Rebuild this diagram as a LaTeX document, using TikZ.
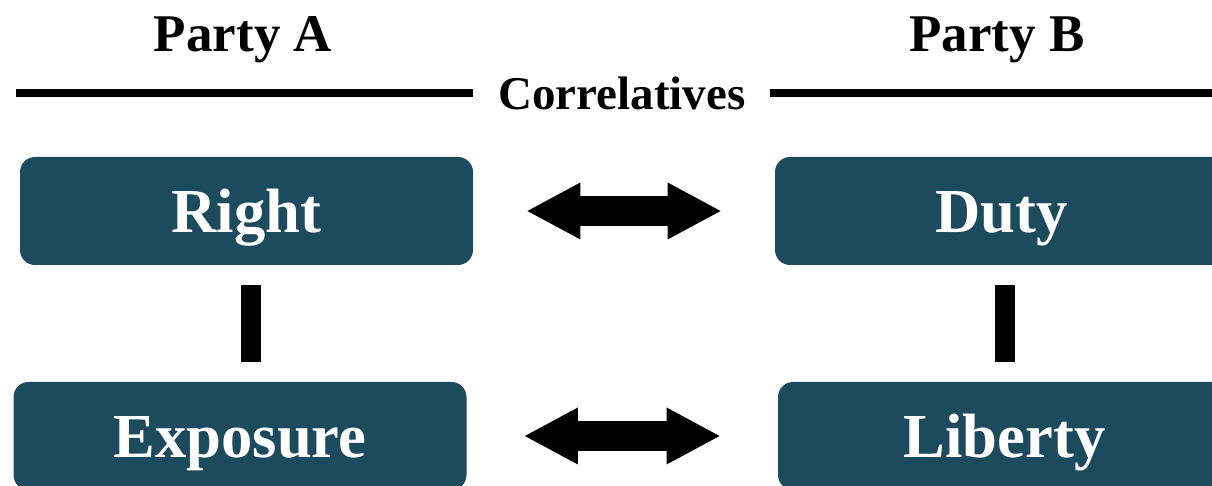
\documentclass[tikz,border=0pt]{standalone}
\usepackage{fontspec}
\setmainfont{Liberation Serif}
\usetikzlibrary{arrows.meta,calc}
\definecolor{boxteal}{HTML}{1D4B5E}
\tikzset{
  term/.style={fill=boxteal,rounded corners=7.5pt,minimum width=226.5pt,minimum height=54pt,
    inner sep=0pt,text=white,font=\fontsize{31.3}{36}\selectfont\bfseries,text height=22pt,text depth=0pt},
  party/.style={anchor=base,inner sep=0pt,font=\fontsize{26.5}{32}\selectfont\bfseries},
  rule/.style={line width=4pt},
  twoway/.style={line width=15pt,
    {Triangle[length=26.5pt,width=28.5pt,line width=0pt]}-{Triangle[length=26.5pt,width=28.5pt,line width=0pt]}},
  vbar/.style={line width=10pt,shorten <=10pt,shorten >=10pt}
}
\begin{document}
\begin{tikzpicture}[x=0.5pt,y=-0.5pt]
  \useasboundingbox (0,0) rectangle (1212,486);
  \clip (0,0) rectangle (1212,486);
  % headings
  \node[party] (pa) at (243,52) {Party A};
  \node[party] (pb) at (997,52) {Party B};
  \node[party,font=\fontsize{23.5}{28}\selectfont\bfseries] (cor) at (622,110) {Correlatives};
  \coordinate (ll) at (16,93);
  \coordinate (rr) at (1212,93);
  \draw[rule,shorten >=12.5pt] (ll) -- (ll -| cor.west);
  \draw[rule,shorten <=12pt] (rr -| cor.east) -- (rr);
  % boxes
  \node[term] (r) at (246.5,211) {Right};
  \node[term] (d) at (1001.5,211) {Duty};
  \node[term] (e) at (240,436) {Exposure};
  \node[term] (l) at (1004.5,436) {Liberty};
  % correlative arrows
  \draw[twoway,shorten <=27pt,shorten >=27pt] (r.east) -- (d.west);
  \draw[twoway,shorten <=29pt,shorten >=29pt] (e.east) -- (l.west);
  % bars
  \draw[vbar] ($(r.south)+(4.5,0)$) -- ($(r.south |- e.north)+(4.5,0)$);
  \draw[vbar] (d.south -| l.north) -- (l.north);
\end{tikzpicture}
\end{document}
